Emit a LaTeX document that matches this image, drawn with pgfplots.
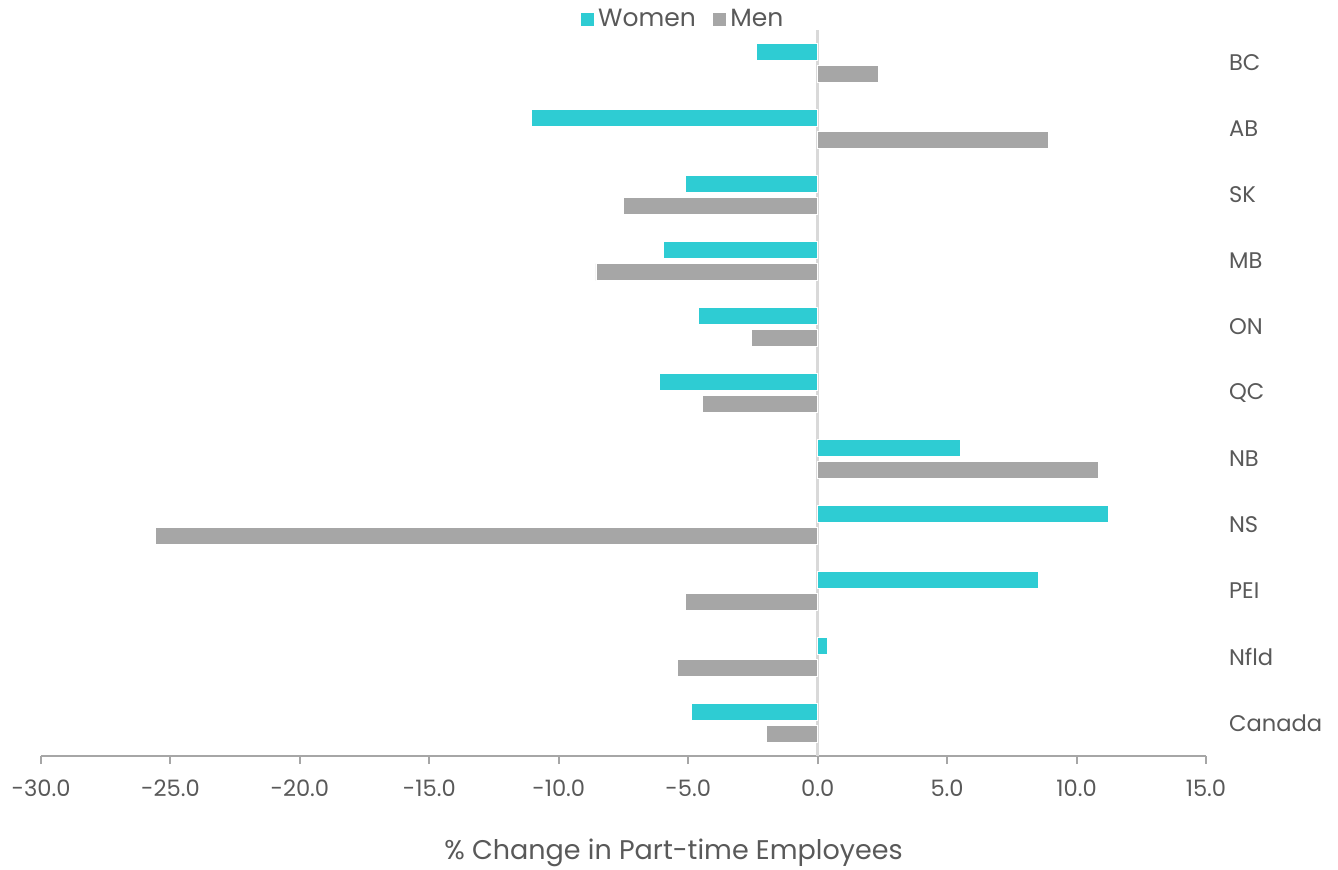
\documentclass[border=0pt]{standalone}
\usepackage{pgfplots}
\pgfplotsset{compat=1.18}
\usepackage{fontspec}
\setmainfont{Poppins}
\definecolor{women}{HTML}{2ECCD3}
\definecolor{men}{HTML}{A6A6A6}
\definecolor{txt}{HTML}{595959}
\definecolor{axisgray}{HTML}{A6A6A6}
\definecolor{zerogray}{HTML}{D9D9D9}

% Change in part-time employees by province (index 10 = BC ... 0 = Canada)
\pgfplotstableread{
y  women  men
10 -2.36   2.36
9  -11.05  8.92
8  -5.10  -7.49
7  -5.95  -8.57
6  -4.60  -2.55
5  -6.10  -4.44
4   5.52  10.85
3  11.24 -25.57
2   8.54  -5.10
1   0.39  -5.41
0  -4.87  -1.97
}\provdata

\begin{document}
\begin{tikzpicture}
\begin{axis}[
  name=ax,
  scale only axis,
  width=582.5pt, height=363pt,
  xmin=-30, xmax=15,
  ymin=-0.5, ymax=10.5,
  xtick={-30,-25,...,15},
  xticklabel style={yshift=-4.5pt, /pgf/number format/.cd,fixed,fixed zerofill,precision=1,assume math mode=true},
  ytick={0,...,10},
  yticklabels={Canada,Nfld,PEI,NS,NB,QC,ON,MB,SK,AB,BC},
  axis x line*=bottom,
  axis y line*=right,
  y axis line style={draw=none},
  yticklabel style={anchor=west, xshift=4pt},
  ytick style={draw=none},
  x axis line style={draw=axisgray, line width=1pt, -},
  xtick style={draw=axisgray, line width=1pt},
  tick align=outside,
  major tick length=4pt,
  ticklabel style={text=txt, font=\fontsize{11.3}{13}\selectfont},
  xlabel={\% Change in Part-time Employees},
  xlabel style={text=txt, font=\fontsize{13.5}{16}\selectfont, yshift=-6pt, xshift=25pt},
  extra x ticks={0},
  extra x tick labels={},
  extra x tick style={grid=major, major grid style={draw=zerogray, line width=1.2pt}, tick style={draw=axisgray, line width=1pt}},
  xbar, bar width=8.5pt,
  legend style={at={(0.5,1)}, anchor=south, yshift=-4pt, xshift=30pt, draw=none, fill=none,
    legend columns=2, font=\fontsize{12.5}{15}\selectfont, text=txt,
    /tikz/every even column/.append style={column sep=6pt}},
  legend image code/.code={\fill[#1] (0pt,-3.4pt) rectangle (7pt,3.4pt);},
  clip=false,
]
\addplot[fill=women, draw=white, line width=0.3pt, bar shift=5.5pt] table[x=women, y=y] {\provdata};
\addplot[fill=men, draw=white, line width=0.3pt, bar shift=-5.5pt] table[x=men, y=y] {\provdata};
\legend{Women, Men}
\end{axis}
\pgfresetboundingbox
\path (ax.south west) ++(-20.5pt,-56.5pt) coordinate (bl);
\path (ax.north east) ++(66pt,15pt) coordinate (tr);
\path (bl) rectangle (tr);
\end{tikzpicture}
\end{document}
